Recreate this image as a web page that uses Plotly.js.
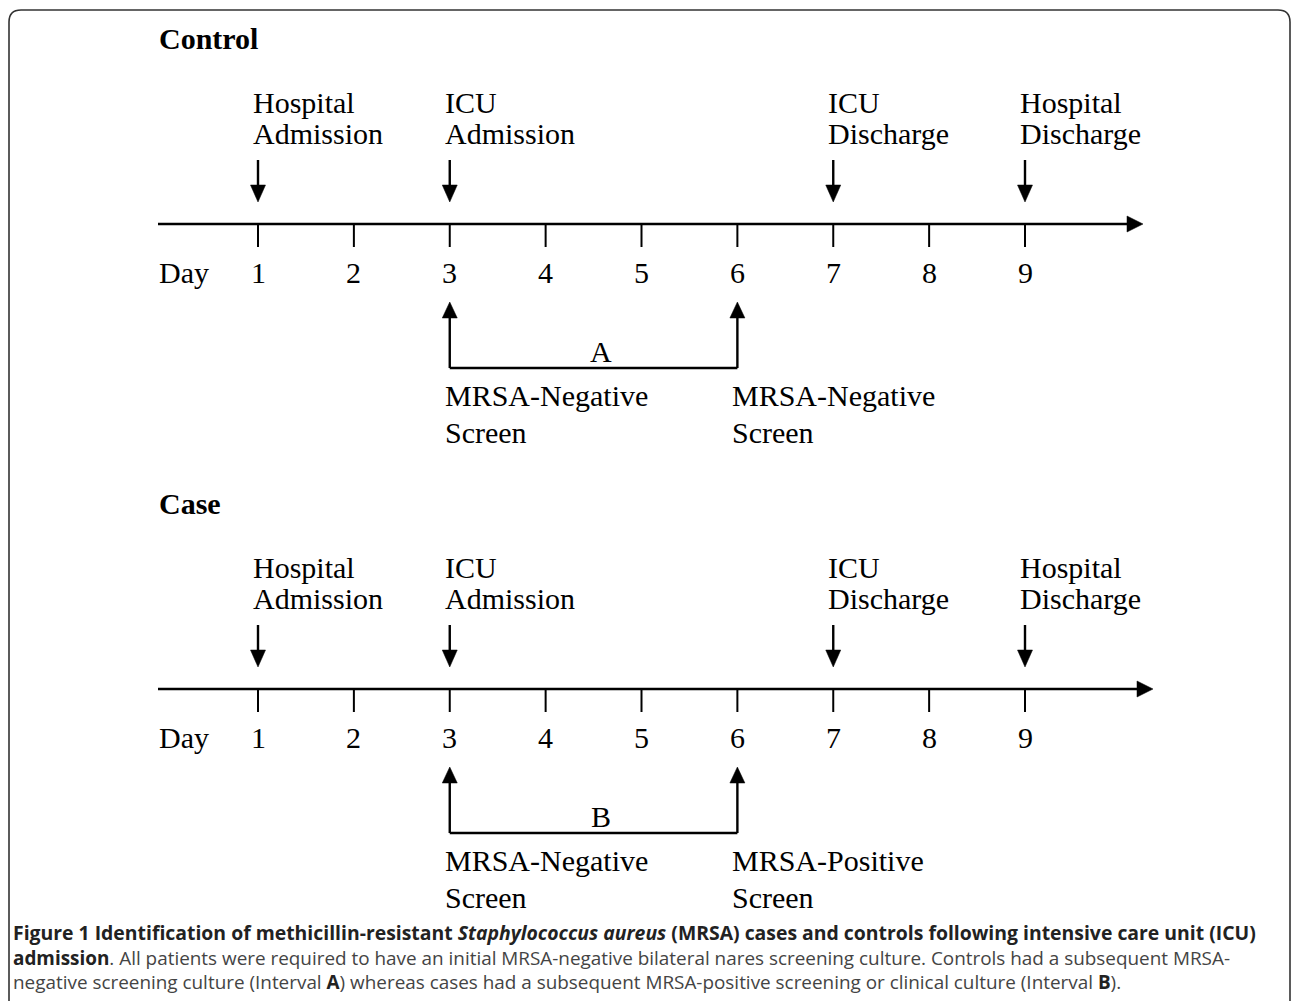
<!DOCTYPE html>
<html>
<head>
<meta charset="utf-8">
<script src="https://cdn.plot.ly/plotly-3.0.1.min.js"></script>
<style>html,body{margin:0;padding:0;background:#fff;}#chart{width:1292px;height:1001px;}</style>
</head>
<body>
<div id="chart"></div>
<script>
// ---------- data ----------
const days = [1, 2, 3, 4, 5, 6, 7, 8, 9];
const panelTitles = ['Control', 'Case'];
const eventDays = [1, 3, 7, 9];
const eventLine1 = ['Hospital', 'ICU', 'ICU', 'Hospital'];
const eventLine2 = ['Admission', 'Admission', 'Discharge', 'Discharge'];
const screenDays = [3, 6];
const controlScreens = ['MRSA-Negative', 'MRSA-Negative'];
const caseScreens = ['MRSA-Negative', 'MRSA-Positive'];
const screenLine2 = ['Screen', 'Screen'];
const intervalLabels = ['A', 'B'];
const dayLabel = 'Day';
const captionLines = [
  '<span style="font-size:19.4px"><b>Figure 1 Identification of methicillin-resistant <i>Staphylococcus aureus</i> (MRSA) cases and controls following intensive care unit (ICU)</b></span>',
  '<b>admission</b><span style="color:#444">. All patients were required to have an initial MRSA-negative bilateral nares screening culture. Controls had a subsequent MRSA-</span>',
  '<span style="color:#444">negative screening culture (Interval </span><b>A</b><span style="color:#444">) whereas cases had a subsequent MRSA-positive screening or clinical culture (Interval </span><b>B</b><span style="color:#444">).</span>'
];

// ---------- layout geometry (pixels) ----------
const W = 1292, H = 1001;
const day1Px = 258, dayStep = 95.875;
const X0 = 1 - day1Px / dayStep;          // day value at left edge
const X1 = X0 + W / dayStep;              // day value at right edge
const px = p => X0 + p / dayStep;         // pixel -> day units
const dpx = p => p / dayStep;             // pixel length -> day units

const panelOffsets = [0, 465];
const timelineEndPx = [1143, 1153];
const serif = 'Liberation Serif, Times New Roman, serif';
const ink = '#000';

const shapes = [];
const annotations = [];

function line(x0, y0, x1, y1, w) {
  shapes.push({type: 'line', xref: 'x', yref: 'y', x0, y0, x1, y1,
    line: {color: ink, width: w}});
}
function tri(points) {
  const d = 'M' + points.map(p => p[0] + ',' + p[1]).join(' L') + ' Z';
  shapes.push({type: 'path', xref: 'x', yref: 'y', path: d,
    fillcolor: ink, line: {color: ink, width: 0.5}});
}
function text(t, x, y, opts) {
  annotations.push(Object.assign({
    text: t, x, y, xref: 'x', yref: 'y', showarrow: false,
    xanchor: 'left', yanchor: 'middle',
    font: {family: serif, size: 30, color: ink}
  }, opts || {}));
}

panelTitles.forEach((title, pi) => {
  const o = panelOffsets[pi];
  const tlY = 224 + o;
  // title
  text('<b>' + title + '</b>', px(157), 38 + o);

  // timeline with arrowhead
  const endX = px(timelineEndPx[pi]);
  line(px(158), tlY, endX - dpx(12), tlY, 2.6);
  tri([[endX - dpx(16), tlY - 8], [endX, tlY], [endX - dpx(16), tlY + 8]]);

  // ticks & day labels
  days.forEach(d => {
    line(d, tlY, d, 247 + o, 2);
    text(String(d), d, 272 + o, {xanchor: 'center'});
  });
  text(dayLabel, px(157), 272 + o);

  // event arrows and labels
  eventDays.forEach((d, i) => {
    line(d, 160 + o, d, 190 + o, 2.4);
    tri([[d - dpx(7.5), 185 + o], [d + dpx(7.5), 185 + o], [d, 202 + o]]);
    text(eventLine1[i], d - dpx(7), 102 + o);
    text(eventLine2[i], d - dpx(7), 133 + o);
  });

  // screening bracket
  const labels = pi === 0 ? controlScreens : caseScreens;
  screenDays.forEach((d, i) => {
    line(d, 312 + o, d, 368 + o, 2.4);
    tri([[d - dpx(7.5), 318 + o], [d + dpx(7.5), 318 + o], [d, 302 + o]]);
    text(labels[i], d - dpx(7), 395 + o);
    text(screenLine2[i], d - dpx(7), 432 + o);
  });
  line(screenDays[0], 368 + o, screenDays[1], 368 + o, 2.4);
  text(intervalLabels[pi], (screenDays[0] + screenDays[1]) / 2 + dpx(7), 351 + o,
       {xanchor: 'center'});
});

// caption (one multi-line block)
text(captionLines.join('<br>'), px(11), 957,
     {align: 'left', font: {family: 'Open Sans, sans-serif', size: 18.9, color: '#222'}});

// rounded frame
(function () {
  const l = px(9), r = px(1290), t = 10, b = 1012, rr = 12;
  const path = `M${l},${b} L${l},${t + rr} Q${l},${t} ${l + dpx(rr)},${t} L${r - dpx(rr)},${t} Q${r},${t} ${r},${t + rr} L${r},${b}`;
  shapes.push({type: 'path', xref: 'x', yref: 'y', path, line: {color: '#333', width: 1.6}});
})();

const layout = {
  width: W, height: H,
  margin: {l: 0, r: 0, t: 0, b: 0, pad: 0},
  paper_bgcolor: '#fff', plot_bgcolor: '#fff',
  showlegend: false,
  xaxis: {range: [X0, X1], visible: false, fixedrange: true},
  yaxis: {range: [H, 0], visible: false, fixedrange: true},
  shapes, annotations
};

Plotly.newPlot('chart', [{x: [], y: [], type: 'scatter', mode: 'markers', hoverinfo: 'skip'}], layout,
  {staticPlot: true, displayModeBar: false});
</script>
</body>
</html>
